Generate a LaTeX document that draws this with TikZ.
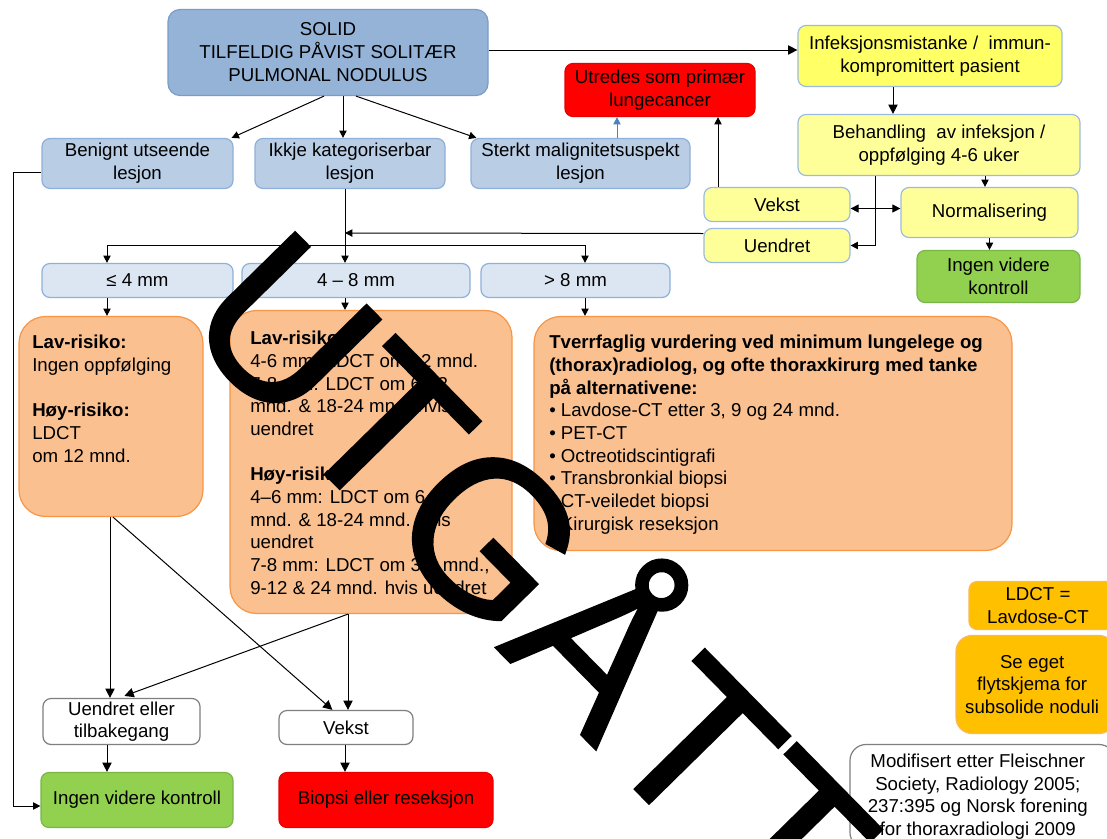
\documentclass[tikz,border=0pt]{standalone}
\usepackage{fontspec}
\setmainfont{Liberation Sans}
\newfontfamily\wmfont[FakeBold=1.2]{Liberation Sans}
\usetikzlibrary{arrows.meta,calc}
\definecolor{cSolid}{HTML}{95B3D7}
\definecolor{cSolidB}{HTML}{7A9CC8}
\definecolor{cBlue}{HTML}{B9CDE5}
\definecolor{cBlueB}{HTML}{8EB0DA}
\definecolor{cPale}{HTML}{DCE6F2}
\definecolor{cYel}{HTML}{FFFF66}
\definecolor{cYelP}{HTML}{FFFF99}
\definecolor{cYelB}{HTML}{9DBBE0}
\definecolor{cGreen}{HTML}{92D050}
\definecolor{cGreenB}{HTML}{7AB648}
\definecolor{cRed}{HTML}{FF0000}
\definecolor{cRedB}{HTML}{E60000}
\definecolor{cOr}{HTML}{FAC090}
\definecolor{cOrB}{HTML}{F79646}
\definecolor{cAmb}{HTML}{FFC000}
\definecolor{cAmbB}{HTML}{F8B860}
\definecolor{cGray}{HTML}{7F7F7F}
\definecolor{cArrB}{HTML}{4F81BD}
\newcommand\mkbox[7]{\node[#2, minimum width={(#5-#3)*0.75pt}, minimum height={(#6-#4)*0.75pt}] (#1) at ({(#3+#5)/2},{(#4+#6)/2+1.5}) {#7};}
\begin{document}
\begin{tikzpicture}[x=0.75pt,y=-0.75pt,
  font=\fontsize{14}{17}\selectfont,
  bx/.style={draw, rounded corners=6pt, align=center, inner sep=0pt, line width=0.9pt},
  solidbox/.style={bx, fill=cSolid, draw=cSolidB, rounded corners=9pt},
  bluebox/.style={bx, fill=cBlue, draw=cBlueB},
  palebox/.style={bx, fill=cPale, draw=cBlueB},
  yelbox/.style={bx, fill=cYel, draw=cYelB},
  ypbox/.style={bx, fill=cYelP, draw=cYelB},
  greenbox/.style={bx, fill=cGreen, draw=cGreenB},
  redbox/.style={bx, fill=cRed, draw=cRedB},
  orbox/.style={bx, fill=cOr, draw=cOrB, rounded corners=20pt},
  ambbox/.style={bx, fill=cAmb, draw=cAmbB},
  ambbox2/.style={bx, fill=cAmb, draw=cAmbB, rounded corners=12pt},
  whitebox/.style={bx, fill=white, draw=cGray},
  notebox/.style={bx, fill=white, draw=cGray, rounded corners=12pt},
  otext/.style={anchor=north west, inner sep=0pt, align=left, font=\fontsize{14}{17}\selectfont},
  arr/.style={-{Triangle[length=7pt,width=7pt]}, line width=0.75pt, black},
  arrs/.style={-{Triangle[length=5.5pt,width=5.5pt]}, line width=0.75pt},
  arrd/.style={{Triangle[length=6pt,width=6pt]}-{Triangle[length=6pt,width=6pt]}, line width=0.75pt},
  wm/.style={inner sep=0pt, anchor=base west, rotate=-45.5, font=\wmfont\fontsize{161}{161}\selectfont}
]
\useasboundingbox (0,0) rectangle (1107,839);
\fill[white] (0,0) rectangle (1107,839);

% top row
\mkbox{solid}{solidbox, font=\fontsize{14}{17.2}\selectfont}{168}{8}{488}{94}{SOLID\\TILFELDIG PÅVIST SOLITÆR\\PULMONAL NODULUS}
\mkbox{infek}{yelbox}{798}{24}{1062}{85}{Infeksjonsmistanke /\ \ immun-\\kompromittert pasient}
\mkbox{utred}{redbox}{565}{62}{755}{115}{Utredes som primær\\lungecancer}
\mkbox{benign}{bluebox}{42}{137}{233}{187}{Benignt utseende\\lesjon}
\mkbox{ikkje}{bluebox}{255}{137}{445}{187}{Ikkje kategoriserbar\\lesjon}
\mkbox{sterkt}{bluebox}{471}{137}{690}{187}{Sterkt malignitetsuspekt\\lesjon}
\mkbox{beh}{ypbox}{798}{113}{1080}{174}{Behandling\ \ av infeksjon /\\oppfølging 4-6 uker}
\mkbox{vekstY}{ypbox}{704}{186}{850}{220}{Vekst}
\mkbox{uendY}{ypbox}{704}{227}{850}{261}{Uendret}
\mkbox{norm}{ypbox}{901}{186}{1078}{236}{Normalisering}
\mkbox{ingenR}{greenbox}{917}{249}{1080}{301}{Ingen videre\\kontroll}

% size row
\mkbox{le4}{palebox}{42}{262}{233}{296}{≤ 4 mm}
\mkbox{s48}{palebox}{242}{262}{470}{296}{4 – 8 mm}
\mkbox{gt8}{palebox}{481}{262}{670}{296}{> 8 mm}

% orange boxes
\mkbox{oL}{orbox}{19}{315}{203}{515}{}
\mkbox{oM}{orbox}{230}{309}{512}{612}{}
\mkbox{oR}{orbox}{534}{315}{1012}{549}{}
\node[otext] (tL) at (32,335) {\textbf{Lav-risiko:}\\Ingen oppfølging\\[17pt]\textbf{Høy-risiko:}\\LDCT\\om 12 mnd.};
\node[otext] (tM) at (250,331) {\textbf{Lav-risiko:}\\4-6 mm: LDCT om 12 mnd.\\7-8 mm: LDCT om 6-12\\mnd. \& 18-24 mnd. hvis\\uendret\\[17pt]\textbf{Høy-risiko:}\\4–6 mm: LDCT om 6-12\\mnd. \& 18-24 mnd. hvis\\uendret\\7-8 mm: LDCT om 3-6 mnd.,\\9-12 \& 24 mnd. hvis uendret};
\node[otext] (tR) at (549,335) {\textbf{Tverrfaglig vurdering ved minimum lungelege og}\\\textbf{(thorax)radiolog, og ofte thoraxkirurg med tanke}\\\textbf{på alternativene:}\\• Lavdose-CT etter 3, 9 og 24 mnd.\\• PET-CT\\• Octreotidscintigrafi\\• Transbronkial biopsi\\• CT-veiledet biopsi\\• Kirurgisk reseksjon};

% bottom
\mkbox{uel}{whitebox}{43}{697}{200}{743}{Uendret eller\\tilbakegang}
\mkbox{vekstB}{whitebox}{279}{709}{413}{743}{Vekst}
\mkbox{ingenB}{greenbox}{41}{771}{233}{826}{Ingen videre kontroll}
\mkbox{biop}{redbox}{279}{771}{493}{826}{Biopsi eller reseksjon}

% notes right
\mkbox{ldct}{ambbox}{969}{580}{1115}{628}{\hspace*{-6pt}LDCT =\\\hspace*{-6pt}Lavdose-CT}
\mkbox{seeget}{ambbox2}{956}{634}{1115}{732}{\hspace*{-5pt}Se eget\\\hspace*{-5pt}flytskjema for\\\hspace*{-5pt}subsolide noduli}
\mkbox{modif}{notebox}{850}{743}{1115}{847}{\hspace*{-7pt}Modifisert etter Fleischner\\\hspace*{-7pt}Society, Radiology 2005;\\\hspace*{-7pt}237:395 og Norsk forening\\\hspace*{-7pt}for thoraxradiologi 2009}

% connectors top
\draw[arr] ($(solid.east)+(0,-2.5)$) -- ($(solid.east -| infek.west)+(0,-2.5)$);
\draw[arrs] ($(solid.south)+(-4,0)$) -- ($(benign.north east)+(-2,0)$);
\draw[arrs] ($(solid.south)+(15,0)$) -- ($(ikkje.north)+(-7,0)$);
\draw[arrs] ($(solid.south)+(28,0)$) -- ($(sterkt.north west)+(6,0)$);
\draw[arrs, cArrB] ($(sterkt.north)+(36.5,0)$) -- ($(utred.south)+(-43,0)$);
\draw[arrs] ($(vekstY.north)+(-59,0)$) -- ($(utred.south)+(58,0)$);
\draw[arr] ($(infek.south)+(-37,0)$) -- ($(beh.north)+(-46,0)$);
\draw[arrs] ($(beh.south)+(-64,0)$) |- (uendY.east);
\draw[arrs] ($(beh.south)+(46,0)$) -- ($(norm.north)+(-4.5,0)$);
\draw[arrd] ($(vekstY.east)+(0,4)$) -- ($(vekstY.east -| norm.west)+(0,4)$);
\draw[arrs] (norm.south) -- (norm.south |- ingenR.north);

% size branch
\coordinate (bl) at (107,245);
\coordinate (bm) at (345,245);
\coordinate (br) at (585,245);
\draw[line width=0.75pt] (bl) -- (br);
\draw[arrs] (bm |- ikkje.south) -- (bm |- s48.north);
\draw[arrs] ($(uendY.west)+(0,-12)$) -- (bm |- 0,233);
\draw[arrs] (bl) -- (bl |- le4.north);
\draw[arrs] (br) -- (br |- gt8.north);
\draw[arrs] (bl |- le4.south) -- (bl |- oL.north);
\draw[arrs] (bm |- s48.south) -- (bm |- oM.north);
\draw[arrs] (br |- gt8.south) -- (br |- oR.north);

% left long line
\draw[arrs] ($(benign.west)+(0,9)$) -- ++(-28,0) |- ($(ingenB.west)+(0,6)$);

% bottom connectors
\coordinate (lx) at (110,0);
\coordinate (mx) at (348,0);
\draw[arr] (lx |- oL.south) -- (lx |- uel.north);
\draw[arr] ($(lx |- oL.south)+(3,0)$) -- ($(vekstB.north west)+(54,0)$);
\draw[arr] (mx |- oM.south) -- (mx |- vekstB.north);
\draw[arr] (mx |- oM.south) -- ($(uel.north west)+(82,-2)$);
\draw[arr] ($(uel.south)+(-14.5,0)$) -- ($(uel.south |- ingenB.north)+(-14.5,0)$);
\draw[arr] ($(vekstB.south)+(-1,0)$) -- ($(vekstB.south |- biop.north)+(-1,0)$);

% watermark
\node[wm] (wmark) at (178,324) {UTGÅTT};
\end{tikzpicture}
\end{document}
